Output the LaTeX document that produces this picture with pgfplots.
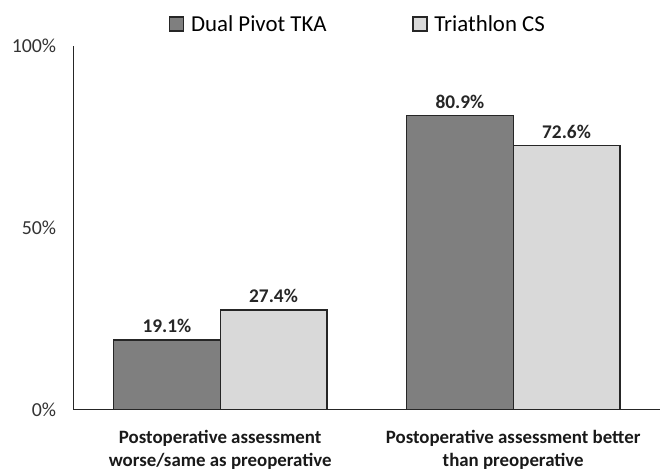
\documentclass[border=0pt]{standalone}
\usepackage{pgfplots}
\pgfplotsset{compat=1.18}
\usepackage{fontspec}
\setmainfont{Carlito}
\definecolor{darkbar}{HTML}{7F7F7F}
\definecolor{lightbar}{HTML}{D9D9D9}
\definecolor{edge}{HTML}{262626}
\begin{document}
\begin{tikzpicture}
\begin{axis}[
  name=ax,
  scale only axis,
  width=588bp, height=365bp,
  ybar=0pt, bar width=107bp,
  xmin=-0.5, xmax=1.5,
  ymin=0, ymax=100,
  axis x line=bottom, axis y line=left,
  axis line style={-, draw=edge, line width=1.2bp},
  ytick={0,50,100},
  yticklabel={\pgfmathprintnumber{\tick}\%},
  /pgf/number format/assume math mode=true,
  ytick style={draw=none},
  yticklabel style={font=\fontsize{20}{22}\selectfont, color=black!80, xshift=-12bp},
  xtick={0,1},
  xticklabels={{Postoperative assessment\\worse/same as preoperative},{Postoperative assessment better\\than preoperative}},
  xticklabel style={font=\fontsize{19}{23}\selectfont\bfseries, align=center, yshift=-15bp, color=black!90},
  xtick style={draw=none},
  extra x ticks={-0.5,0.5,1.5},
  extra x tick labels={},
  extra x tick style={tick style={draw=edge, line width=1.2bp}, major tick length=8bp, tick align=outside},
  nodes near coords={\pgfmathprintnumber[fixed,precision=1,fixed zerofill]{\pgfplotspointmeta}\%},
  nodes near coords style={font=\fontsize{19.5}{22}\selectfont\bfseries, color=black!85, yshift=3bp},
  legend style={at={(0.485,1)}, anchor=south, yshift=11bp, draw=none, fill=none, inner sep=0pt,
    font=\fontsize{23}{26}\selectfont, legend columns=2,
    /tikz/every odd column/.append style={column sep=5bp},
    /tikz/every even column/.append style={column sep=84bp}},
  legend image code/.code={\draw[#1, line width=1.2bp] (0bp,-7bp) rectangle (14bp,7bp);},
]
\addplot[fill=darkbar, draw=edge, line width=1.4bp] coordinates {(0,19.1) (1,80.9)};
\addplot[fill=lightbar, draw=edge, line width=1.4bp] coordinates {(0,27.4) (1,72.6)};
\legend{Dual Pivot TKA, Triathlon CS}
\end{axis}
\path ([xshift=-74bp,yshift=-59bp]ax.south west) rectangle ([xshift=1bp,yshift=46bp]ax.north east);
\end{tikzpicture}
\end{document}
